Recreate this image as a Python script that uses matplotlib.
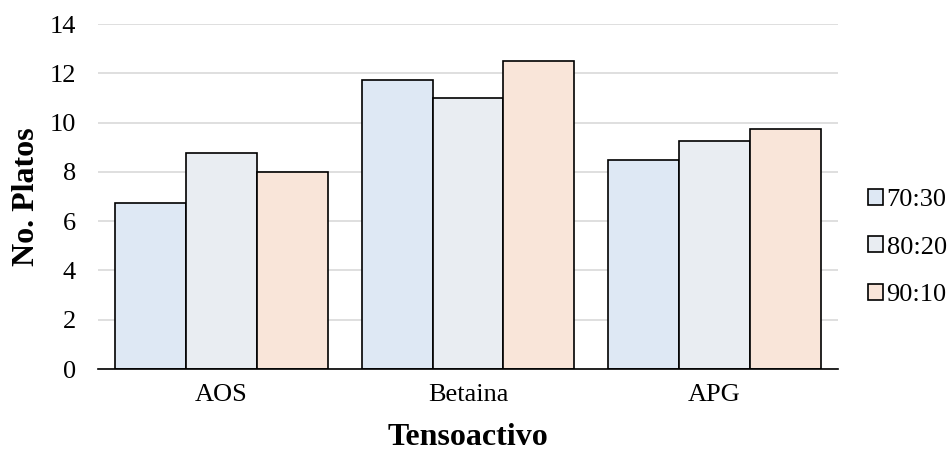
import numpy as np
import matplotlib
matplotlib.use("Agg")
import matplotlib.pyplot as plt
from matplotlib.patches import Patch

plt.rcParams['font.family'] = ['Liberation Serif', 'DejaVu Serif']

categories = ["AOS", "Betaina", "APG"]
series_names = ["70:30", "80:20", "90:10"]
values_7030 = [6.75, 11.75, 8.5]
values_8020 = [8.75, 11.0, 9.25]
values_9010 = [8.0, 12.5, 9.75]
colors = ["#DEE8F4", "#E9EDF2", "#F9E5D9"]

fig = plt.figure(figsize=(9.53, 4.55), dpi=100)
ax = fig.add_axes([0.103, 0.189, 0.776, 0.758])

x = np.arange(len(categories))
width = 0.287
all_series = [values_7030, values_8020, values_9010]
for i, (vals, col) in enumerate(zip(all_series, colors)):
    ax.bar(x + (i - 1) * width, vals, width, color=col,
           edgecolor="black", linewidth=1.2, zorder=3)

ax.set_xlim(-0.5, 2.5)
ax.set_ylim(0, 14)
ax.set_yticks(range(0, 15, 2))
ax.set_xticks(x)
ax.set_xticklabels(categories)
ax.tick_params(axis="both", length=0, labelsize=19)
ax.tick_params(axis="x", pad=11)
ax.tick_params(axis="y", pad=16)
ax.grid(axis="y", color="#D9D9D9", linewidth=1.2, zorder=0)
for side in ["top", "right", "left"]:
    ax.spines[side].set_visible(False)
ax.spines["bottom"].set_linewidth(1.2)
ax.spines["bottom"].set_zorder(4)

ax.set_xlabel("Tensoactivo", fontsize=23, fontweight="bold", labelpad=12)
ax.set_ylabel("No. Platos", fontsize=23, fontweight="bold", labelpad=6)

handles = [Patch(facecolor=c, edgecolor="black", linewidth=1.2) for c in colors]
fig.legend(handles, series_names, loc="center left",
           bbox_to_anchor=(0.886, 0.456), frameon=False, fontsize=19,
           handlelength=0.55, handleheight=0.55, handletextpad=0.15,
           labelspacing=0.95)

fig.savefig("out.png", dpi=100)
